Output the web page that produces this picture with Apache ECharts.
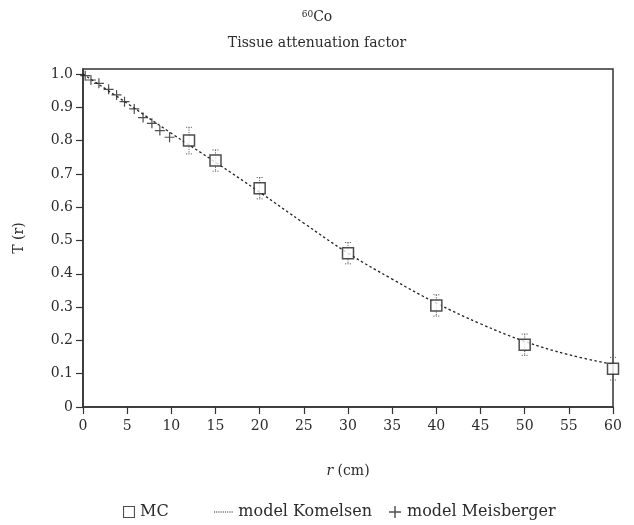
<!DOCTYPE html>
<html>
<head>
<meta charset="utf-8">
<script src="https://cdn.jsdelivr.net/npm/echarts@6/dist/echarts.min.js"></script>
<style>html,body{margin:0;padding:0;background:#fff}#c{width:634px;height:525px}</style>
</head>
<body>
<div id="c"></div>
<script>
// MC points (r in cm, T(r)) with error
const mcR = [12, 15, 20, 30, 40, 50, 60];
const mcT = [0.800, 0.740, 0.657, 0.462, 0.305, 0.187, 0.115];
const mcErr = [0.040, 0.032, 0.032, 0.032, 0.032, 0.032, 0.034];
// model Komelsen curve
const komR = [0, 5, 10, 15, 20, 25, 30, 35, 40, 45, 50, 55, 60];
const komT = [1.000, 0.912, 0.822, 0.735, 0.645, 0.552, 0.462, 0.384, 0.312, 0.250, 0.197, 0.157, 0.128];
// model Meisberger points
const meiR = [0.25, 0.9, 1.8, 2.9, 3.8, 4.7, 5.8, 6.8, 7.8, 8.7, 9.8];
const meiT = [0.995, 0.982, 0.972, 0.954, 0.937, 0.917, 0.895, 0.869, 0.852, 0.830, 0.810];
// tick labels
const xTicks = [0, 5, 10, 15, 20, 25, 30, 35, 40, 45, 50, 55, 60];
const yTicks = [0, 0.1, 0.2, 0.3, 0.4, 0.5, 0.6, 0.7, 0.8, 0.9, 1.0];

const FONT = "'DejaVu Serif', 'Liberation Serif', serif";
const FS = 14;
const LFS = 16;
const TXT = '#2b2b2b';
const AX = '#333';

const zip = (a, b) => a.map((v, i) => [v, b[i]]);
const errData = mcR.map((r, i) => [r, mcT[i] - mcErr[i], mcT[i] + mcErr[i]]);
const plusPath = 'path://M4.4,0h1.2v4.4h4.4v1.2h-4.4v4.4h-1.2v-4.4h-4.4v-1.2h4.4z';
const squarePath = 'path://M0,0h12v12h-12zM1.1,1.1v9.8h9.8v-9.8z';
const dotsPath = 'path://M0,5.5h1.1v1h-1.1zM2.2,5.5h1.1v1h-1.1zM4.4,5.5h1.1v1h-1.1zM6.6,5.5h1.1v1h-1.1zM8.8,5.5h1.1v1h-1.1zM11,5.5h1.1v1h-1.1zM13.2,5.5h1.1v1h-1.1zM15.4,5.5h1.1v1h-1.1zM17.6,5.5h1.1v1h-1.1zM0,0h0.01v12h-0.01z';

const legendBase = {
  top: 499, orient: 'horizontal', itemHeight: 12,
  textStyle: {fontFamily: FONT, fontSize: LFS, color: TXT}
};

const chart = echarts.init(document.getElementById('c'), null, {renderer: 'canvas'});
chart.setOption({
  animation: false,
  backgroundColor: '#fff',
  textStyle: {fontFamily: FONT, color: TXT},
  title: [
    {text: '{sup|60}Co', left: 'center', top: 5,
     textStyle: {fontFamily: FONT, fontSize: FS, fontWeight: 'normal', color: TXT,
       rich: {sup: {fontFamily: FONT, fontSize: 9, color: TXT, verticalAlign: 'top', padding: [0, 0, 6, 0]}}}},
    {text: 'Tissue attenuation factor', left: 'center', top: 31,
     textStyle: {fontFamily: FONT, fontSize: FS, fontWeight: 'normal', color: TXT}}
  ],
  grid: {left: 83, right: 21, top: 69, bottom: 118, show: true, borderColor: AX, borderWidth: 1.5, backgroundColor: 'transparent'},
  legend: [
    Object.assign({}, legendBase, {left: 118, itemWidth: 12,
      data: [{name: 'MC', icon: squarePath, itemStyle: {color: '#222', borderWidth: 0}}]}),
    Object.assign({}, legendBase, {left: 209, itemWidth: 20,
      data: [{name: 'model Komelsen', icon: dotsPath, itemStyle: {color: '#222', borderWidth: 0}}]}),
    Object.assign({}, legendBase, {left: 384, itemWidth: 14,
      data: [{name: 'model Meisberger', icon: plusPath, itemStyle: {color: '#222'}}]})
  ],
  xAxis: {
    type: 'value', min: 0, max: 60, interval: 5,
    name: '{i|r} (cm)', nameLocation: 'middle', nameGap: 57,
    nameTextStyle: {fontFamily: FONT, fontSize: FS, color: TXT, rich: {i: {fontFamily: FONT, fontSize: FS, fontStyle: 'italic', color: TXT}}},
    axisLine: {show: true, onZero: false, lineStyle: {color: AX, width: 1.5}},
    axisTick: {show: true, inside: false, length: 7, lineStyle: {color: AX, width: 1.2}, customValues: xTicks},
    axisLabel: {fontFamily: FONT, fontSize: FS, color: TXT, margin: 12, customValues: xTicks},
    splitLine: {show: false}
  },
  yAxis: {
    type: 'value', min: 0, max: 1.015,
    name: 'T (r)', nameLocation: 'middle', nameGap: 57, nameRotate: 90,
    nameTextStyle: {fontFamily: FONT, fontSize: FS, color: TXT},
    axisLine: {show: true, onZero: false, lineStyle: {color: AX, width: 1.5}},
    axisTick: {show: true, inside: false, length: 7, lineStyle: {color: AX, width: 1.2}, customValues: yTicks},
    axisLabel: {fontFamily: FONT, fontSize: FS, color: TXT, margin: 10, customValues: yTicks,
      formatter: v => (v === 0 ? '0' : v.toFixed(1))},
    splitLine: {show: false}
  },
  series: [
    {
      name: 'model Komelsen', type: 'line', smooth: 0.4, symbol: 'none', z: 2,
      data: zip(komR, komT),
      lineStyle: {color: '#222', width: 1.3, type: [2.5, 2.5]},
      itemStyle: {color: '#222'}
    },
    {
      name: 'MC err', type: 'custom', z: 3,
      data: errData,
      renderItem: (params, api) => {
        const x = api.value(0);
        const lo = api.coord([x, api.value(1)]);
        const hi = api.coord([x, api.value(2)]);
        const st = {stroke: '#666', lineWidth: 1, lineDash: [1.2, 1.2]};
        const w = 3;
        return {type: 'group', children: [
          {type: 'line', shape: {x1: hi[0], y1: hi[1], x2: lo[0], y2: lo[1]}, style: st},
          {type: 'line', shape: {x1: hi[0] - w, y1: hi[1], x2: hi[0] + w, y2: hi[1]}, style: st},
          {type: 'line', shape: {x1: lo[0] - w, y1: lo[1], x2: lo[0] + w, y2: lo[1]}, style: st}
        ]};
      }
    },
    {
      name: 'MC', type: 'scatter', symbol: 'rect', symbolSize: 11, z: 4,
      data: zip(mcR, mcT),
      itemStyle: {color: '#fff', borderColor: '#222', borderWidth: 1.5}
    },
    {
      name: 'model Meisberger', type: 'scatter', symbol: plusPath, symbolSize: 10, z: 5,
      data: zip(meiR, meiT),
      itemStyle: {color: '#222'}
    }
  ]
});
</script>
</body>
</html>
